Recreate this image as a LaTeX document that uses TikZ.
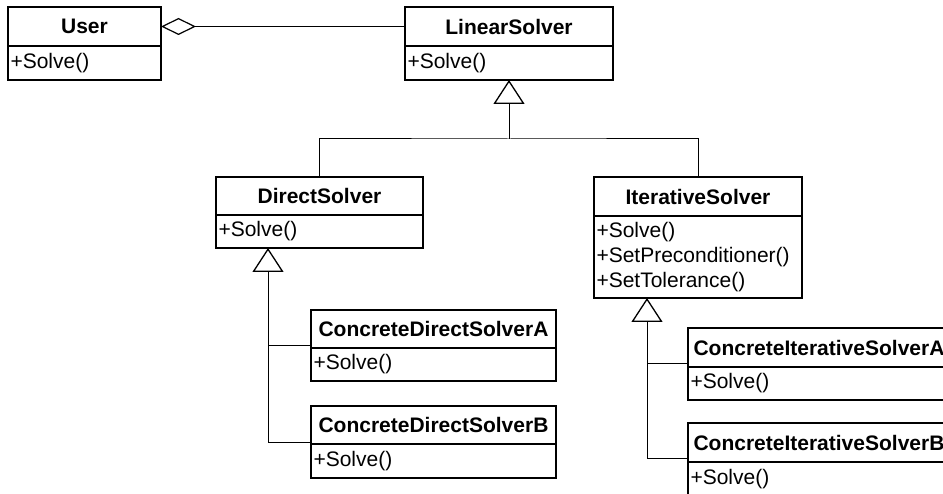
\documentclass[tikz,border=0pt]{standalone}
\usepackage{fontspec}
\setmainfont{Liberation Sans}
\usetikzlibrary{arrows.meta,calc}
\begin{document}
\begin{tikzpicture}[x=1pt,y=-1pt,
  box/.style={draw, line width=1.6pt, inner sep=0pt, outer sep=0pt, anchor=north west,
              font=\fontsize{21}{25}\selectfont},
  ctitle/.style={box, font=\fontsize{21}{25}\selectfont\bfseries, minimum height=39pt},
  cops/.style={box, align=left, inner xsep=2.5pt, minimum height=34pt},
  conn/.style={line width=1pt},
  gen/.style={conn, -{Triangle[open, length=24pt, width=31pt, line width=1.3pt]}},
  aggr/.style={conn, -{Diamond[open, length=35pt, width=17pt, line width=1.2pt]}}
]
\fill[white] (0,0) rectangle (943,494);
\useasboundingbox (0,0) rectangle (943,494);
\clip (0,0) rectangle (943,494);

% classes: name compartment + operations compartment
\node[ctitle, minimum width=153pt] (user) at (8,7) {User};
\node[cops, text width=148pt] (userops) at (user.south west) {+Solve()};

\node[ctitle, minimum width=208pt] (ls) at (405,7) {LinearSolver};
\node[cops, text width=203pt] (lsops) at (ls.south west) {+Solve()};

\node[ctitle, minimum width=207pt, minimum height=38pt] (ds) at (216,177) {DirectSolver};
\node[cops, text width=202pt, minimum height=33pt] (dsops) at (ds.south west) {+Solve()};

\node[ctitle, minimum width=208pt] (is) at (594,177) {IterativeSolver};
\node[cops, text width=203pt, minimum height=82pt] (isops) at (is.south west)
  {+Solve()\\+SetPreconditioner()\\+SetTolerance()};

\node[ctitle, minimum width=245pt, minimum height=38pt] (cdsa) at (311,310) {ConcreteDirectSolverA};
\node[cops, text width=240pt, minimum height=33pt] (cdsaops) at (cdsa.south west) {+Solve()};

\node[ctitle, minimum width=245pt, minimum height=38pt] (cdsb) at (311,406) {ConcreteDirectSolverB};
\node[cops, text width=240pt] (cdsbops) at (cdsb.south west) {+Solve()};

\node[ctitle, minimum width=262pt] (cisa) at (688,328) {ConcreteIterativeSolverA};
\node[cops, text width=257pt, minimum height=33pt] (cisaops) at (cisa.south west) {+Solve()};

\node[ctitle, minimum width=262pt] (cisb) at (688,423) {ConcreteIterativeSolverB};
\node[cops, text width=257pt] (cisbops) at (cisb.south west) {+Solve()};

% aggregation User <>-- LinearSolver
\draw[aggr] (ls.west) -- (user.east);

% generalisation to LinearSolver
\path (lsops.south) ++(0,59) coordinate (lsbus);
\draw[conn] (ds.north) |- (lsbus) -| (is.north);
\draw[gen] (lsbus) -- (lsops.south);

% generalisation to DirectSolver
\coordinate (dstip) at ($(dsops.south west)+(52,0)$);
\coordinate (cdsain) at ($(cdsaops.north west)+(0,-2)$);
\coordinate (cdsbin) at ($(cdsbops.north west)+(0,-2)$);
\draw[gen] (cdsbin) -| (dstip);
\draw[conn] (cdsain) -- (cdsain -| dstip);

% generalisation to IterativeSolver
\coordinate (istip) at ($(isops.south west)+(53,0)$);
\coordinate (cisain) at ($(cisaops.north west)+(0,-3)$);
\coordinate (cisbin) at ($(cisbops.north west)+(0,-4)$);
\draw[gen] (cisbin) -| (istip);
\draw[conn] (cisain) -- (cisain -| istip);
\end{tikzpicture}
\end{document}
